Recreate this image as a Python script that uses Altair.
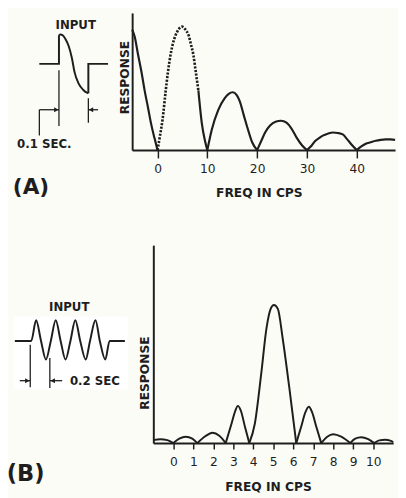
import altair as alt
import pandas as pd

INK = "#1e1e1e"
FONT = "DejaVu Sans"

# ---------------- Panel A: response curve (freq in cps, response in arbitrary units) -------------
A_FREQ = [-5.1, -4.6, -3.9, -3.2, -2.6, -1.9, -1.3, -0.6, 0,
          0, 0.5, 1.0, 1.65, 2.1, 2.6, 3.1, 3.6, 4.2, 4.9, 5.6, 6.25, 6.7, 7.2, 7.7, 8.2,
          8.2, 8.9, 9.5, 10,
          10, 10.9, 12.2, 13.5, 14.3, 15.1, 15.9, 16.5, 17.3, 18.1, 19.0, 20,
          20, 20.8, 21.6, 22.6, 23.7, 24.8, 25.9, 26.9, 27.9, 29.0, 30,
          30, 31.0, 31.6, 32.5, 33.3, 34.3, 35.2, 36.2, 37.2, 38.1, 38.9, 40,
          40, 41.0, 41.8, 42.8, 43.8, 44.8, 45.8, 46.8, 47.7]
A_RESP = [123, 116, 97, 79, 61, 43, 27, 12, 0,
          0, 15, 31, 61, 80, 97, 109, 117, 123, 126, 123, 117, 108, 97, 79, 61,
          61, 27, 10, 0,
          0, 21, 41, 53, 57.5, 59, 56, 50, 36, 22, 8, 0,
          0, 9, 18, 25, 29, 30, 28, 22, 13, 5, 0,
          0, 5, 9, 12.5, 15, 17, 18, 17.5, 16, 11, 6, 0,
          0, 4, 6.5, 8, 9.5, 10.5, 11, 11, 10.5]
A_ARCH = ([0] * 9 + [1] * 16 + [2] * 4 + [3] * 12 + [4] * 11 + [5] * 12 + [6] * 9)
A_DOTTED_ARCHES = [1]
A_TICKS = [0, 10, 20, 30, 40]

# ---------------- Panel B: response curve -------------
B_FREQ = [-1.0, -0.65, -0.3, 0,
          0, 0.3, 0.62, 0.95, 1.2,
          1.2, 1.6, 1.96, 2.3, 2.62,
          2.62, 2.9, 3.1, 3.23, 3.38, 3.58, 3.8,
          3.8, 4.08, 4.41, 4.66, 4.87, 5.03, 5.23, 5.47, 5.8, 6.15,
          6.15, 6.4, 6.6, 6.78, 6.95, 7.15, 7.4,
          7.4, 7.7, 8.0, 8.4, 8.85,
          8.85, 9.1, 9.4, 9.75, 10.05,
          10.05, 10.3, 10.6, 10.85, 11.0]
B_RESP = [3, 4, 3, 0,
          0, 4.5, 6.5, 4.5, 0,
          0, 7, 10.5, 7.5, 0,
          0, 19, 33, 38, 33, 17, 0,
          0, 20, 73, 117, 137, 141, 137, 107, 57, 0,
          0, 17, 31, 37, 31, 17, 0,
          0, 6.5, 9, 6.5, 0,
          0, 4.5, 6, 4, 0,
          0, 2.8, 3.4, 2.5, 1]
B_ARCH = ([0] * 4 + [1] * 5 + [2] * 5 + [3] * 7 + [4] * 10 + [5] * 7 + [6] * 5 + [7] * 5 + [8] * 5)
B_TICKS = list(range(0, 11))

# ---------------- Inset A: input pulse (time in s, amplitude) -------------
IA_EDGE_T = [-0.0667, 0, 0, 0.1, 0.1, 0.167]
IA_EDGE_V = [0, 0, 0.97, -1.0, 0, 0]
IA_EDGE_SEG = ["left", "left", "left", "right", "right", "right"]
IA_CURVE_T = [0, 0.005, 0.012, 0.022, 0.033, 0.044, 0.053, 0.067, 0.083, 0.095, 0.1]
IA_CURVE_V = [0.97, 1.0, 0.98, 0.85, 0.61, 0.2, -0.28, -0.67, -0.89, -0.98, -1.0]
# dimension lines: (t, v) -> (t2, v2)
IA_DIM_T = [0, 0.1, -0.0667, -0.0667, 0.133]
IA_DIM_V = [-0.22, -1.17, -1.56, -1.56, -1.56]
IA_DIM_T2 = [0, 0.1, -0.0667, 0, 0.1]
IA_DIM_V2 = [-2.11, -2.0, -2.44, -1.56, -1.56]
IA_HEAD_T = [-0.009, 0.109]
IA_HEAD_V = [-1.56, -1.56]
IA_HEAD_SHAPE = ["triangle-right", "triangle-left"]
IA_TEXT = ["INPUT", "0.1 SEC."]
IA_TEXT_T = [0.057, -0.05]
IA_TEXT_V = [1.33, -2.72]

# ---------------- Inset B: input burst (time in s, amplitude) -------------
IB_T = [-0.167, 0, 0.05, 0.1, 0.15, 0.2, 0.25, 0.3, 0.35, 0.4, 0.45, 0.5, 0.556, 0.6,
        0.656, 0.7, 0.756, 0.8, 0.956]
IB_V = [0, 0, 1.05, 0, -0.95, 0, 1.05, 0, -0.95, 0, 1.05, 0, -0.95, 0,
        1.05, 0, -0.95, 0, 0]
IB_DIM_T = [-0.01, 0.19, -0.117, 0.316]
IB_DIM_V = [-0.2, -0.87, -2.03, -2.03]
IB_DIM_T2 = [-0.01, 0.19, -0.01, 0.19]
IB_DIM_V2 = [-2.37, -2.4, -2.03, -2.03]
IB_HEAD_T = [-0.04, 0.22]
IB_HEAD_V = [-2.03, -2.03]
IB_HEAD_SHAPE = ["triangle-right", "triangle-left"]
IB_TEXT = ["INPUT", "0.2 SEC"]
IB_TEXT_T = [0.388, 0.65]
IB_TEXT_V = [1.735, -2.03]
IB_BOX = {"t": [-0.177], "t2": [0.983], "v": [1.235], "v2": [-2.465]}

PANEL_LABELS = ["(A)", "(B)"]

W, H = 398, 490

# ---------------- scales (explicit pixel ranges place each panel) -------------
sxA = alt.Scale(domain=[-5.1, 47.7], range=[126.7, 395], nice=False, zero=False)
syA = alt.Scale(domain=[0, 140], range=[140, 0], nice=False, zero=False)
sxB = alt.Scale(domain=[-1, 11], range=[148.3, 393.1], nice=False, zero=False)
syB = alt.Scale(domain=[0, 202], range=[439, 237], nice=False, zero=False)
sxIA = alt.Scale(domain=[-0.1, 0.2], range=[22, 112], nice=False, zero=False)
syIA = alt.Scale(domain=[-3, 2], range=[142, -8], nice=False, zero=False)
sxIB = alt.Scale(domain=[-0.2, 1.0], range=[3.7, 123.7], nice=False, zero=False)
syIB = alt.Scale(domain=[-3, 2], range=[394.7, 294.7], nice=False, zero=False)

common_x = dict(domainColor=INK, domainWidth=2, tickColor=INK, tickWidth=1.5, grid=False,
                labelFont=FONT, labelFontSize=12.5, labelColor=INK,
                titleFont=FONT, titleFontSize=12.5, titleFontWeight="bold", titleColor=INK,
                titleAlign="center", titleBaseline="middle", orient="bottom")
common_y = dict(domainColor=INK, domainWidth=2, ticks=False, labels=False, grid=False,
                titleFont=FONT, titleFontSize=12.5, titleFontWeight="bold", titleColor=INK,
                titleAngle=270, titleAlign="center", titleBaseline="middle", orient="left")

axA_x = alt.Axis(title="FREQ IN CPS", values=A_TICKS, tickSize=8, labelPadding=5,
                 offset=140 - H, titleX=256, titleY=43, **common_x)
axA_y = alt.Axis(title="RESPONSE", offset=-126.7, titleX=-8, titleY=65.5, **common_y)
axB_x = alt.Axis(title="FREQ IN CPS", values=B_TICKS, tickSize=6, labelPadding=7,
                 offset=439 - H, titleX=265.3, titleY=44, **common_x)
axB_y = alt.Axis(title="RESPONSE", offset=-148.3, titleX=-8.5, titleY=367, **common_y)

dfA = pd.DataFrame({"freq": A_FREQ, "resp": A_RESP, "arch": A_ARCH})
dfA["dotted"] = dfA["arch"].isin(A_DOTTED_ARCHES)
dfB = pd.DataFrame({"freq": B_FREQ, "resp": B_RESP, "arch": B_ARCH})

lineA_solid = alt.Chart(dfA[~dfA["dotted"]]).mark_line(
    interpolate="monotone", color=INK, strokeWidth=2.2).encode(
    x=alt.X("freq:Q", scale=sxA, axis=axA_x),
    y=alt.Y("resp:Q", scale=syA, axis=axA_y),
    detail="arch:N")
lineA_dot = alt.Chart(dfA[dfA["dotted"]]).mark_line(
    interpolate="monotone", color=INK, strokeWidth=2.7, strokeDash=[2.2, 1.5]).encode(
    x=alt.X("freq:Q", scale=sxA, axis=None),
    y=alt.Y("resp:Q", scale=syA, axis=None),
    detail="arch:N")
lineB = alt.Chart(dfB).mark_line(interpolate="monotone", color=INK, strokeWidth=2).encode(
    x=alt.X("freq:Q", scale=sxB, axis=axB_x),
    y=alt.Y("resp:Q", scale=syB, axis=axB_y),
    detail="arch:N")

# inset A
dfIA_edge = pd.DataFrame({"t": IA_EDGE_T, "v": IA_EDGE_V, "seg": IA_EDGE_SEG,
                          "i": list(range(len(IA_EDGE_T)))})
dfIA_curve = pd.DataFrame({"t": IA_CURVE_T, "v": IA_CURVE_V})
dfIA_dim = pd.DataFrame({"t": IA_DIM_T, "v": IA_DIM_V, "t2": IA_DIM_T2, "v2": IA_DIM_V2})
dfIA_head = pd.DataFrame({"t": IA_HEAD_T, "v": IA_HEAD_V, "shape": IA_HEAD_SHAPE})
dfIA_text = pd.DataFrame({"t": IA_TEXT_T, "v": IA_TEXT_V, "label": IA_TEXT})

xIA = alt.X("t:Q", scale=sxIA, axis=None)
yIA = alt.Y("v:Q", scale=syIA, axis=None)
iaEdge = alt.Chart(dfIA_edge).mark_line(color=INK, strokeWidth=2).encode(
    x=xIA, y=yIA, detail="seg:N", order="i:Q")
iaCurve = alt.Chart(dfIA_curve).mark_line(color=INK, strokeWidth=2, interpolate="monotone").encode(
    x=xIA, y=yIA)
iaDim = alt.Chart(dfIA_dim).mark_rule(color=INK, strokeWidth=1.3).encode(
    x=xIA, y=yIA, x2="t2:Q", y2="v2:Q")
iaHead = alt.Chart(dfIA_head).mark_point(filled=True, color=INK, size=26, opacity=1).encode(
    x=xIA, y=yIA, shape=alt.Shape("shape:N", scale=None))
iaText = alt.Chart(dfIA_text).mark_text(font=FONT, fontSize=12, fontWeight="bold", color=INK).encode(
    x=xIA, y=yIA, text="label:N")

# inset B
dfIB_box = pd.DataFrame(IB_BOX)
dfIB = pd.DataFrame({"t": IB_T, "v": IB_V})
dfIB_dim = pd.DataFrame({"t": IB_DIM_T, "v": IB_DIM_V, "t2": IB_DIM_T2, "v2": IB_DIM_V2})
dfIB_head = pd.DataFrame({"t": IB_HEAD_T, "v": IB_HEAD_V, "shape": IB_HEAD_SHAPE})
dfIB_text = pd.DataFrame({"t": IB_TEXT_T, "v": IB_TEXT_V, "label": IB_TEXT})

xIB = alt.X("t:Q", scale=sxIB, axis=None)
yIB = alt.Y("v:Q", scale=syIB, axis=None)
ibBox = alt.Chart(dfIB_box).mark_rect(color="#ffffff").encode(
    x=xIB, y=yIB, x2="t2:Q", y2="v2:Q")
ibWave = alt.Chart(dfIB).mark_line(color=INK, strokeWidth=2, interpolate="monotone").encode(
    x=xIB, y=yIB)
ibDim = alt.Chart(dfIB_dim).mark_rule(color=INK, strokeWidth=1.3).encode(
    x=xIB, y=yIB, x2="t2:Q", y2="v2:Q")
ibHead = alt.Chart(dfIB_head).mark_point(filled=True, color=INK, size=26, opacity=1).encode(
    x=xIB, y=yIB, shape=alt.Shape("shape:N", scale=None))
ibText = alt.Chart(dfIB_text).mark_text(font=FONT, fontSize=12, fontWeight="bold", color=INK).encode(
    x=xIB, y=yIB, text="label:N")

# panel labels, placed in their inset's coordinates
labA = alt.Chart(pd.DataFrame({"t": [-0.095], "v": [-4.18], "label": [PANEL_LABELS[0]]})).mark_text(
    font=FONT, fontSize=22, fontWeight="bold", color=INK).encode(x=xIA, y=yIA, text="label:N")
labB = alt.Chart(pd.DataFrame({"t": [-0.057], "v": [-6.8], "label": [PANEL_LABELS[1]]})).mark_text(
    font=FONT, fontSize=23, fontWeight="bold", color=INK).encode(x=xIB, y=yIB, text="label:N")

chart = alt.layer(
    lineA_solid, lineA_dot, lineB,
    iaEdge, iaCurve, iaDim, iaHead, iaText,
    ibBox, ibWave, ibDim, ibHead, ibText,
    labA, labB,
).resolve_scale(x="independent", y="independent").resolve_axis(
    x="independent", y="independent").properties(
    width=W, height=H, autosize=alt.AutoSizeParams(type="none"), padding=0,
    background="#fcfcf7",
).configure_view(strokeWidth=0)

chart.save("out.html", embed_options={"renderer": "svg", "actions": False})
